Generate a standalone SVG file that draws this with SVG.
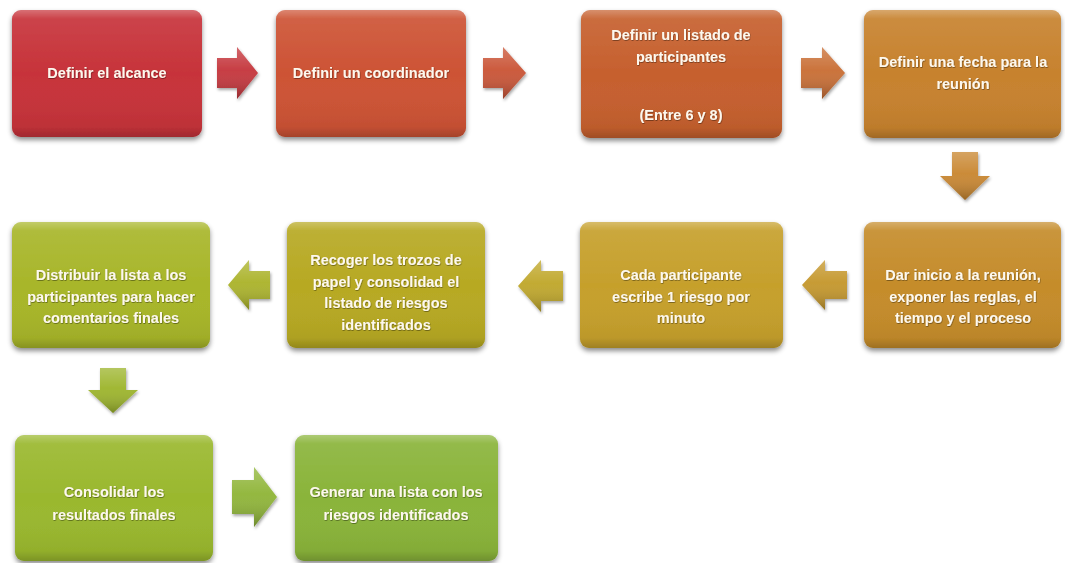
<svg xmlns="http://www.w3.org/2000/svg" width="1065" height="563" viewBox="0 0 1065 563">
<style>
.box{filter:url(#sh);}
.gloss{fill:url(#gl);}
.t{font-family:"Liberation Sans",Arial,sans-serif;font-weight:bold;font-size:14.5px;fill:#fdf8ee;text-anchor:middle;filter:url(#tsh);}
.arr{filter:url(#ash);}
.ag{fill:url(#agl);}
</style>
<defs>
<filter id="sh" x="-10%" y="-10%" width="120%" height="125%">
<feDropShadow dx="0" dy="3" stdDeviation="2.5" flood-color="#000" flood-opacity="0.45"/>
</filter>
<filter id="ash" x="-20%" y="-20%" width="140%" height="140%">
<feDropShadow dx="1" dy="2" stdDeviation="1.5" flood-color="#000" flood-opacity="0.35"/>
</filter>
<filter id="tsh" x="-5%" y="-20%" width="110%" height="140%">
<feDropShadow dx="0.5" dy="0.8" stdDeviation="0.6" flood-color="#000" flood-opacity="0.45"/>
</filter>
<linearGradient id="gl" x1="0" y1="0" x2="0" y2="1">
<stop offset="0" stop-color="#fff" stop-opacity="0.3"/>
<stop offset="0.07" stop-color="#fff" stop-opacity="0.08"/>
<stop offset="0.5" stop-color="#fff" stop-opacity="0"/>
<stop offset="0.92" stop-color="#000" stop-opacity="0.05"/>
<stop offset="1" stop-color="#000" stop-opacity="0.2"/>
</linearGradient>
<linearGradient id="agl" x1="0" y1="0" x2="0" y2="1">
<stop offset="0" stop-color="#fff" stop-opacity="0.25"/>
<stop offset="0.45" stop-color="#fff" stop-opacity="0.05"/>
<stop offset="1" stop-color="#000" stop-opacity="0.25"/>
</linearGradient>
</defs>

<g id="connectors">
<g class="arr"><path d="M217,58 H237 V47 L258,73 L237,99 V88 H217 Z" fill="#c4343a"/><path class="ag" d="M217,58 H237 V47 L258,73 L237,99 V88 H217 Z"/></g>
<g class="arr"><path d="M483,58 H503 V47 L526,73 L503,99 V88 H483 Z" fill="#c95234"/><path class="ag" d="M483,58 H503 V47 L526,73 L503,99 V88 H483 Z"/></g>
<g class="arr"><path d="M801,58 H822 V47 L845,73 L822,99 V88 H801 Z" fill="#c86c32"/><path class="ag" d="M801,58 H822 V47 L845,73 L822,99 V88 H801 Z"/></g>
<g class="arr"><path d="M952,152 H978 V176 H990 L965,200 L940,176 H952 Z" fill="#c8852e"/><path class="ag" d="M952,152 H978 V176 H990 L965,200 L940,176 H952 Z"/></g>
<g class="arr"><path d="M847,271 H825 V260 L802,285 L825,310 V299 H847 Z" fill="#c4962a"/><path class="ag" d="M847,271 H825 V260 L802,285 L825,310 V299 H847 Z"/></g>
<g class="arr"><path d="M563,271 H541 V260 L518,286 L541,312 V301 H563 Z" fill="#bfa628"/><path class="ag" d="M563,271 H541 V260 L518,286 L541,312 V301 H563 Z"/></g>
<g class="arr"><path d="M270,271 H249 V260 L228,285 L249,310 V299 H270 Z" fill="#aab228"/><path class="ag" d="M270,271 H249 V260 L228,285 L249,310 V299 H270 Z"/></g>
<g class="arr"><path d="M100,368 H126 V390 H138 L113,413 L88,390 H100 Z" fill="#9cb42a"/><path class="ag" d="M100,368 H126 V390 H138 L113,413 L88,390 H100 Z"/></g>
<g class="arr"><path d="M232,480 H254 V467 L277,497 L254,527 V514 H232 Z" fill="#8eb436"/><path class="ag" d="M232,480 H254 V467 L277,497 L254,527 V514 H232 Z"/></g>
</g>

<g id="n1" class="box"><rect x="12" y="10" width="190" height="127" rx="9" fill="#c7333a"/><rect class="gloss" x="12" y="10" width="190" height="127" rx="9"/>
<text class="t" x="107" y="78">Definir el alcance</text></g>

<g id="n2" class="box"><rect x="276" y="10" width="190" height="127" rx="9" fill="#cd5335"/><rect class="gloss" x="276" y="10" width="190" height="127" rx="9"/>
<text class="t" x="371" y="78">Definir un coordinador</text></g>

<g id="n3" class="box"><rect x="581" y="10" width="201" height="128" rx="9" fill="#c6602e"/><rect class="gloss" x="581" y="10" width="201" height="128" rx="9"/>
<text class="t" x="681" y="40">Definir un listado de</text>
<text class="t" x="681" y="62">participantes</text>
<text class="t" x="681" y="120">(Entre 6 y 8)</text></g>

<g id="n4" class="box"><rect x="864" y="10" width="197" height="128" rx="9" fill="#c7822e"/><rect class="gloss" x="864" y="10" width="197" height="128" rx="9"/>
<text class="t" x="963" y="67">Definir una fecha para la</text>
<text class="t" x="963" y="89">reunión</text></g>

<g id="n5" class="box"><rect x="864" y="222" width="197" height="126" rx="9" fill="#c58c2b"/><rect class="gloss" x="864" y="222" width="197" height="126" rx="9"/>
<text class="t" x="963" y="280">Dar inicio a la reunión,</text>
<text class="t" x="963" y="302">exponer las reglas, el</text>
<text class="t" x="963" y="323">tiempo y el proceso</text></g>

<g id="n6" class="box"><rect x="580" y="222" width="203" height="126" rx="9" fill="#c6a02c"/><rect class="gloss" x="580" y="222" width="203" height="126" rx="9"/>
<text class="t" x="681" y="280">Cada participante</text>
<text class="t" x="681" y="302">escribe  1 riesgo por</text>
<text class="t" x="681" y="323">minuto</text></g>

<g id="n7" class="box"><rect x="287" y="222" width="198" height="126" rx="9" fill="#b7a923"/><rect class="gloss" x="287" y="222" width="198" height="126" rx="9"/>
<text class="t" x="386" y="265">Recoger los trozos de</text>
<text class="t" x="386" y="287">papel  y consolidad el</text>
<text class="t" x="386" y="308">listado de riesgos</text>
<text class="t" x="386" y="330">identificados</text></g>

<g id="n8" class="box"><rect x="12" y="222" width="198" height="126" rx="9" fill="#a8b62a"/><rect class="gloss" x="12" y="222" width="198" height="126" rx="9"/>
<text class="t" x="111" y="280">Distribuir la lista a los</text>
<text class="t" x="111" y="302">participantes para hacer</text>
<text class="t" x="111" y="323">comentarios finales</text></g>

<g id="n9" class="box"><rect x="15" y="435" width="198" height="126" rx="9" fill="#9ab82e"/><rect class="gloss" x="15" y="435" width="198" height="126" rx="9"/>
<text class="t" x="114" y="497">Consolidar los</text>
<text class="t" x="114" y="520">resultados finales</text></g>

<g id="n10" class="box"><rect x="295" y="435" width="203" height="126" rx="9" fill="#8ab43a"/><rect class="gloss" x="295" y="435" width="203" height="126" rx="9"/>
<text class="t" x="396" y="497">Generar una lista con los</text>
<text class="t" x="396" y="520">riesgos identificados</text></g>
</svg>
